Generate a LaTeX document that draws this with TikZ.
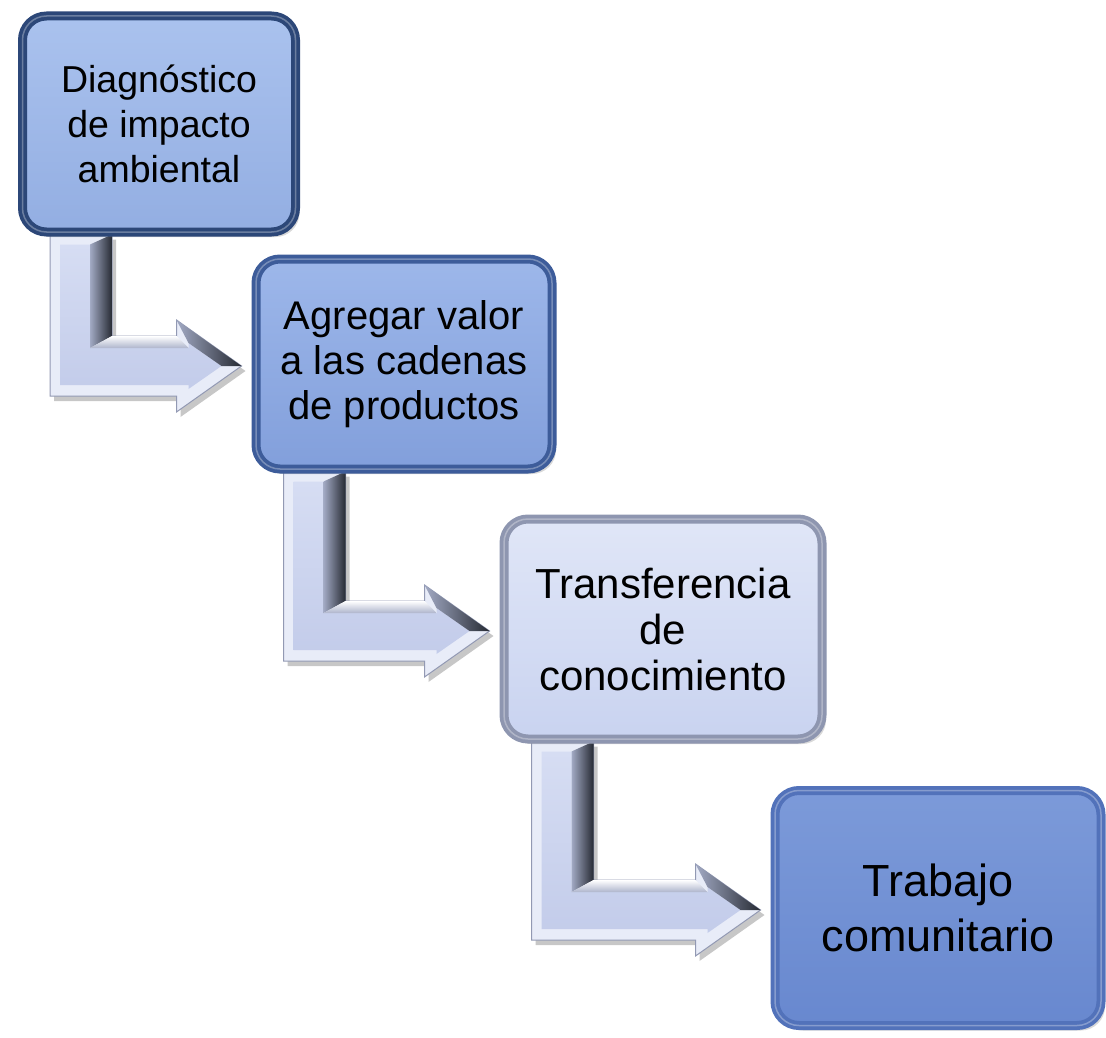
\documentclass[tikz,border=0pt]{standalone}
\usepackage{fontspec}
\setmainfont{Liberation Sans}
\usetikzlibrary{calc,shadows,backgrounds}
\definecolor{navyline}{HTML}{2C4778}
\definecolor{blueline}{HTML}{3D5C9A}
\definecolor{greyline}{HTML}{8E96B0}
\definecolor{deepline}{HTML}{5272BA}
\definecolor{navytop}{HTML}{AAC2EE}
\definecolor{navybot}{HTML}{93AEE2}
\definecolor{bluetop}{HTML}{9DB7EA}
\definecolor{bluebot}{HTML}{829FDB}
\definecolor{paletop}{HTML}{E0E6F7}
\definecolor{palebot}{HTML}{C9D3F0}
\definecolor{deeptop}{HTML}{7C9AD9}
\definecolor{deepbot}{HTML}{6888CF}
\definecolor{rimlight}{HTML}{E8ECF8}
\definecolor{rimline}{HTML}{9299B3}
\definecolor{facetop}{HTML}{D6DDF3}
\definecolor{facebot}{HTML}{C3CCEA}
\definecolor{bevelmid}{HTML}{A2AAC4}
\definecolor{bevelgrey}{HTML}{AEB5CC}
\definecolor{shadowdark}{HTML}{262A33}
\tikzstyle{stage}=[rounded corners=24pt,line width=9pt,align=center,inner sep=0pt,
  drop shadow={shadow xshift=4pt,shadow yshift=-5pt,opacity=.3,fill=gray},
  postaction={draw=white,draw opacity=.3,line width=1.5pt}]
\tikzstyle{navystage}=[stage,draw=navyline,top color=navytop,bottom color=navybot]
\tikzstyle{bluestage}=[stage,draw=blueline,top color=bluetop,bottom color=bluebot]
\tikzstyle{palestage}=[stage,draw=greyline,top color=paletop,bottom color=palebot]
\tikzstyle{deepstage}=[stage,draw=deepline,top color=deeptop,bottom color=deepbot]
\tikzstyle{arrowrim}=[fill=rimlight,draw=rimline,line width=1pt]
\tikzstyle{arrowface}=[top color=facetop,bottom color=facebot]
\tikzstyle{arrowdark}=[left color=bevelmid,right color=shadowdark]
\tikzstyle{arrowlit}=[top color=white,bottom color=bevelgrey]
\newcommand{\bentarrow}[2]{%
  \coordinate (#1bar) at ($(#1.south west)+(63,-2)$);
  \coordinate (#1tip) at ($(#2.west)+(-10,2)$);
  \coordinate (#1turn) at (#1bar |- #1tip);
  \fill[black,opacity=.22,transform canvas={shift={(4pt,-5pt)}}]
    ($(#1bar)+(-31,0)$) -- ($(#1bar)+(31,0)$) -- ($(#1turn)+(31,-30)$)
    -- ($(#1tip)+(-65,-30)$) -- ($(#1tip)+(-65,-46)$) -- (#1tip)
    -- ($(#1tip)+(-65,46)$) -- ($(#1tip)+(-65,30)$) -- ($(#1turn)+(-31,30)$) -- cycle;
  \filldraw[arrowrim]
    ($(#1bar)+(-31,0)$) -- ($(#1bar)+(31,0)$) -- ($(#1turn)+(31,-30)$)
    -- ($(#1tip)+(-65,-30)$) -- ($(#1tip)+(-65,-46)$) -- (#1tip)
    -- ($(#1tip)+(-65,46)$) -- ($(#1tip)+(-65,30)$) -- ($(#1turn)+(-31,30)$) -- cycle;
  \shade[arrowface]
    ($(#1bar)+(-21,10)$) -- ($(#1bar)+(9,10)$) -- ($(#1turn)+(9,-18)$)
    -- ($(#1tip)+(-53,-18)$) -- ($(#1tip)+(-53,-23)$) -- ($(#1tip)+(-20,0)$)
    -- ($(#1tip)+(-53,23)$) -- ($(#1tip)+(-53,19)$) -- ($(#1turn)+(-21,19)$) -- cycle;
  \shade[arrowdark]
    ($(#1bar)+(9,10)$) -- ($(#1bar)+(31,0)$) -- ($(#1turn)+(31,-30)$) -- ($(#1turn)+(9,-18)$) -- cycle;
  \shade[arrowlit]
    ($(#1turn)+(31,-30)$) -- ($(#1tip)+(-65,-30)$) -- ($(#1tip)+(-53,-18)$) -- ($(#1turn)+(9,-18)$) -- cycle;
  \shade[arrowdark]
    ($(#1tip)+(-65,-46)$) -- (#1tip) -- ($(#1tip)+(-20,0)$) -- ($(#1tip)+(-53,-23)$) -- cycle;
}

\begin{document}
\begin{tikzpicture}[x=1pt,y=-1pt]
  \useasboundingbox (0,0) rectangle (1106,1038);
  \node[navystage,minimum width=273pt,minimum height=216pt,font=\fontsize{37.5}{45}\selectfont]
    (diag) at (159,124) {Diagnóstico\\de impacto\\ambiental};
  \node[bluestage,minimum width=296pt,minimum height=210pt,font=\fontsize{40}{45}\selectfont]
    (valor) at (404,364) {Agregar valor\\a las cadenas\\de productos};
  \node[palestage,minimum width=318pt,minimum height=220pt,font=\fontsize{42}{46}\selectfont]
    (trans) at (663,629) {Transferencia\\de\\conocimiento};
  \node[deepstage,minimum width=326pt,minimum height=235pt,font=\fontsize{45}{55}\selectfont]
    (trab) at (938,908) {Trabajo\\comunitario};
  \begin{scope}[on background layer]
    \bentarrow{diag}{valor}
    \bentarrow{valor}{trans}
    \bentarrow{trans}{trab}
  \end{scope}
\end{tikzpicture}
\end{document}
